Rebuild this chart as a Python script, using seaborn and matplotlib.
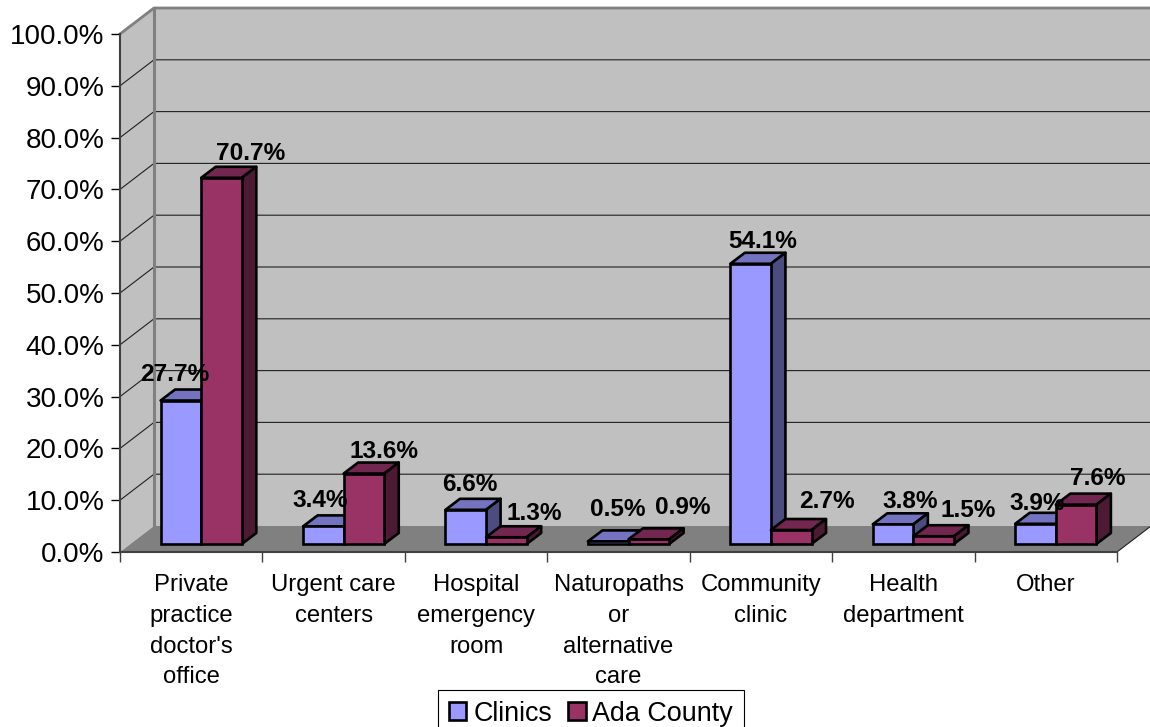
import matplotlib
matplotlib.use("Agg")
import matplotlib.pyplot as plt
from matplotlib.patches import Patch, Polygon
import pandas as pd
import seaborn as sns

categories = [
    "Private\npractice\ndoctor's\noffice",
    "Urgent care\ncenters",
    "Hospital\nemergency\nroom",
    "Naturopaths\nor\nalternative\ncare",
    "Community\nclinic",
    "Health\ndepartment",
    "Other",
]
clinics = [27.7, 3.4, 6.6, 0.5, 54.1, 3.8, 3.9]
ada_county = [70.7, 13.6, 1.3, 0.9, 2.7, 1.5, 7.6]
series_names = ["Clinics", "Ada County"]
y_ticks = list(range(0, 101, 10))

# label offsets from the bar's top centre, in pixels
clinics_dx = [-6, -3, 4, 10, 12, 17, 2]
clinics_dy = [26, 26, 25, 32, 22, 23, 20]
ada_dx = [29, 20, 28, 34, 36, 35, 22]
ada_dy = [24, 22, 24, 32, 29, 26, 26]

W, H = 1150, 727
LEFT, RIGHT, TOP, BOTTOM = 120, 1117, 34, 552
COLORS = ["#9999FF", "#993366"]
TOP_COLORS = ["#7373BF", "#732650"]
SIDE_COLORS = ["#4C4C80", "#4D1A33"]
BAR_LW = 1.9

plt.rcParams["font.family"] = ["Liberation Sans", "DejaVu Sans"]

df = pd.DataFrame(
    {
        "category": categories * 2,
        "series": [series_names[0]] * 7 + [series_names[1]] * 7,
        "value": clinics + ada_county,
    }
)

fig = plt.figure(figsize=(W / 100, H / 100), dpi=100)
ax = fig.add_axes(
    [LEFT / W, 1 - BOTTOM / H, (RIGHT - LEFT) / W, (BOTTOM - TOP) / H]
)
# bars sit a little inside the floor, so they get their own shifted axes
bar_ax = fig.add_axes(
    [(LEFT + 10) / W, 1 - (BOTTOM - 8) / H, (RIGHT - LEFT) / W, (BOTTOM - TOP) / H]
)
ax.set_zorder(1)
bar_ax.set_zorder(2)

px_x = 7 / (RIGHT - LEFT)  # data units per pixel
px_y = 100 / (BOTTOM - TOP)

ax.set_xlim(-0.5, 6.5)
ax.set_ylim(0, 100)
ax.patch.set_visible(False)

# walls and floor
x0, x1 = -0.5, 6.5
wall_dx, wall_dy = 34 * px_x, 26 * px_y
ax.add_patch(
    Polygon(
        [(x0, 0), (x0, 100), (x0 + wall_dx, 100 + wall_dy), (x0 + wall_dx, wall_dy)],
        facecolor="#C0C0C0", edgecolor="none", clip_on=False, zorder=0,
    )
)
ax.add_patch(
    Polygon(
        [(x0 + wall_dx, wall_dy), (x0 + wall_dx, 100 + wall_dy),
         (x1 + wall_dx, 100 + wall_dy), (x1 + wall_dx, wall_dy)],
        facecolor="#C0C0C0", edgecolor="none", clip_on=False, zorder=0,
    )
)
ax.add_patch(
    Polygon(
        [(x0, 0), (x1, 0), (x1 + wall_dx, wall_dy), (x0 + wall_dx, wall_dy)],
        facecolor="#808080", edgecolor="none", clip_on=False, zorder=0.5,
    )
)
for t in y_ticks[1:-1]:
    ax.plot([x0, x0 + wall_dx, x1 + wall_dx], [t, t + wall_dy, t + wall_dy],
            color="#202020", lw=0.8, clip_on=False, zorder=0.3)
ax.plot([x0, x0 + wall_dx, x1 + wall_dx], [100, 100 + wall_dy, 100 + wall_dy],
        color="#808080", lw=2, clip_on=False, zorder=0.6)
ax.plot([x0 + wall_dx, x0 + wall_dx], [wall_dy, 100 + wall_dy],
        color="#808080", lw=2.2, clip_on=False, zorder=0.6)
ax.plot([x1, x1 + wall_dx], [0, wall_dy], color="#202020", lw=0.8,
        clip_on=False, zorder=0.6)

for side in ["top", "right"]:
    ax.spines[side].set_visible(False)
for side in ["left", "bottom"]:
    ax.spines[side].set_color("#404040")
    ax.spines[side].set_linewidth(1.5)

ax.set_yticks(y_ticks)
ax.set_yticklabels([f"{t:.1f}%" for t in y_ticks], fontsize=20)
ax.tick_params(axis="y", length=6.5, width=1, pad=4.5)
ax.set_xticks(range(7))
ax.set_xticklabels(categories, fontsize=17.2, linespacing=1.51)
ax.tick_params(axis="x", which="major", length=0, pad=16)
ax.set_xticks([i - 0.5 for i in range(8)], minor=True)
ax.tick_params(axis="x", which="minor", length=7.5, width=1, color="#404040")

sns.barplot(
    data=df, x="category", y="value", hue="series", hue_order=series_names,
    palette=COLORS, saturation=1, width=0.57, gap=0, edgecolor="black",
    linewidth=BAR_LW, legend=False, ax=bar_ax,
)
bar_ax.set_xlim(-0.5, 6.5)
bar_ax.set_ylim(0, 100)
bar_ax.axis("off")

depth_x, depth_y = 14.5 * px_x, 11 * px_y
bars = sorted(bar_ax.patches, key=lambda b: b.get_x())
for i, bar in enumerate(bars):
    s = i % 2
    left, w, h = bar.get_x(), bar.get_width(), bar.get_height()
    z = 3 + i
    bar.set_zorder(z + 0.2)
    bar.set_clip_on(False)
    bar_ax.add_patch(
        Polygon(
            [(left, h), (left + w, h), (left + w + depth_x, h + depth_y),
             (left + depth_x, h + depth_y)],
            facecolor=TOP_COLORS[s], edgecolor="black", lw=BAR_LW,
            joinstyle="round", clip_on=False, zorder=z,
        )
    )
    bar_ax.add_patch(
        Polygon(
            [(left + w, 0), (left + w + depth_x, depth_y),
             (left + w + depth_x, h + depth_y), (left + w, h)],
            facecolor=SIDE_COLORS[s], edgecolor="black", lw=BAR_LW,
            joinstyle="round", clip_on=False, zorder=z,
        )
    )

values = [v for pair in zip(clinics, ada_county) for v in pair]
offsets_x = [d for pair in zip(clinics_dx, ada_dx) for d in pair]
offsets_y = [d for pair in zip(clinics_dy, ada_dy) for d in pair]
for bar, v, dx, dy in zip(bars, values, offsets_x, offsets_y):
    bar_ax.annotate(
        f"{v:.1f}%",
        (bar.get_x() + bar.get_width() / 2, bar.get_height()),
        xytext=(dx * 0.72, dy * 0.72), textcoords="offset points",
        ha="center", va="center", fontsize=17.6, fontweight="bold",
        color="black", annotation_clip=False, zorder=40,
    )

handles = [
    Patch(facecolor=COLORS[0], edgecolor="black", lw=BAR_LW, label=series_names[0]),
    Patch(facecolor=COLORS[1], edgecolor="black", lw=BAR_LW, label=series_names[1]),
]
fig.legend(
    handles=handles, loc="upper center", bbox_to_anchor=(591 / W, 1 - 690 / H),
    ncol=2, fontsize=19.4, frameon=True, fancybox=False, framealpha=1,
    edgecolor="black", handlelength=0.65, handleheight=0.65, handletextpad=0.25,
    columnspacing=0.6, borderpad=0.4, borderaxespad=0,
).get_frame().set_linewidth(0.8)

fig.savefig("out.png", dpi=100)
